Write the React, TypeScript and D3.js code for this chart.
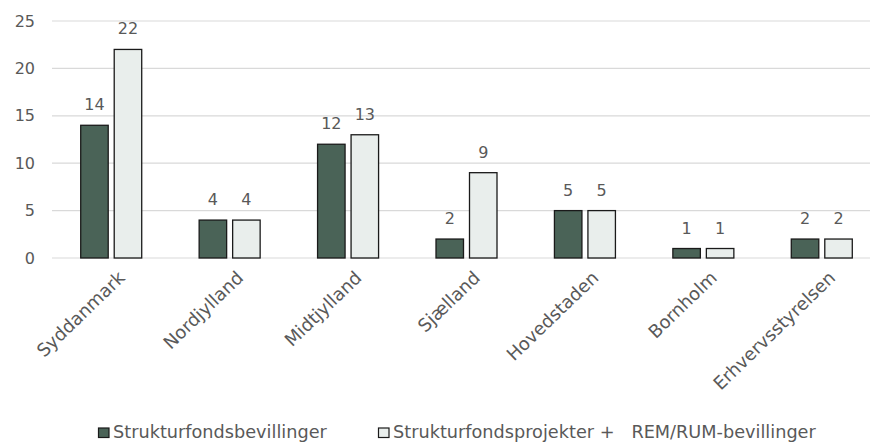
import * as d3 from 'd3';

const regions = ['Syddanmark', 'Nordjylland', 'Midtjylland', 'Sjælland', 'Hovedstaden', 'Bornholm', 'Erhvervsstyrelsen'];
const bevillinger = [14, 4, 12, 2, 5, 1, 2];
const projekter = [22, 4, 13, 9, 5, 1, 2];
const yTicks = [0, 5, 10, 15, 20, 25];
const seriesNames = ['Strukturfondsbevillinger', 'Strukturfondsprojekter +   REM/RUM-bevillinger'];
const colors = ['#4a6357', '#e9eeec'];

const width = 870;
const height = 442;
const font = 'DejaVu Sans, Verdana, sans-serif';
const textColor = '#595959';

export default function App() {
  const margin = { top: 21, left: 52, right: -11, bottom: 184 };

  const x = d3
    .scaleBand<string>()
    .domain(regions)
    .range([margin.left, width - margin.right]);

  const y = d3
    .scaleLinear()
    .domain([0, 25])
    .range([height - margin.bottom, margin.top]);

  const barW = 27.5;
  const gap = 6;

  return (
    <svg
      width={width}
      height={height}
      style={{ position: 'absolute', top: 0, left: 0, background: '#fff' }}
      fontFamily={font}
    >
      {/* grid + y ticks */}
      {yTicks.map((t) => (
        <g key={t}>
          <line x1={margin.left} x2={width} y1={y(t)} y2={y(t)} stroke="#d9d9d9" strokeWidth={1.2} />
          <text x={35} y={y(t)} dy="0.35em" textAnchor="end" fontSize={16} fill={textColor}>
            {t}
          </text>
        </g>
      ))}

      {/* bars */}
      {regions.map((r, i) => {
        const cx = (x(r) ?? 0) + x.bandwidth() / 2;
        const vals = [bevillinger[i], projekter[i]];
        return (
          <g key={r}>
            {vals.map((v, j) => {
              const bx = j === 0 ? cx - gap / 2 - barW : cx + gap / 2;
              return (
                <g key={j}>
                  <rect
                    x={bx}
                    y={y(v)}
                    width={barW}
                    height={y(0) - y(v)}
                    fill={colors[j]}
                    stroke="#1a1a1a"
                    strokeWidth={1.3}
                  />
                  <text x={bx + barW / 2} y={y(v) - 15} textAnchor="middle" fontSize={16} fill={textColor}>
                    {v}
                  </text>
                </g>
              );
            })}
            <text
              transform={`translate(${cx + 6},${y(0) + 12}) rotate(-44)`}
              textAnchor="end"
              dy="0.7em"
              fontSize={18}
              fill={textColor}
            >
              {r}
            </text>
          </g>
        );
      })}

      {/* legend */}
      {seriesNames.map((s, i) => {
        const lx = i === 0 ? 98 : 378;
        return (
          <g key={s} transform={`translate(${lx},428)`}>
            <rect x={0.5} y={0} width={10.5} height={9.5} fill={colors[i]} stroke="#1a1a1a" strokeWidth={1.2} />
            <text x={15} y={10} fontSize={17.7} fill={textColor} style={{ whiteSpace: 'pre' }}>
              {s}
            </text>
          </g>
        );
      })}
    </svg>
  );
}
